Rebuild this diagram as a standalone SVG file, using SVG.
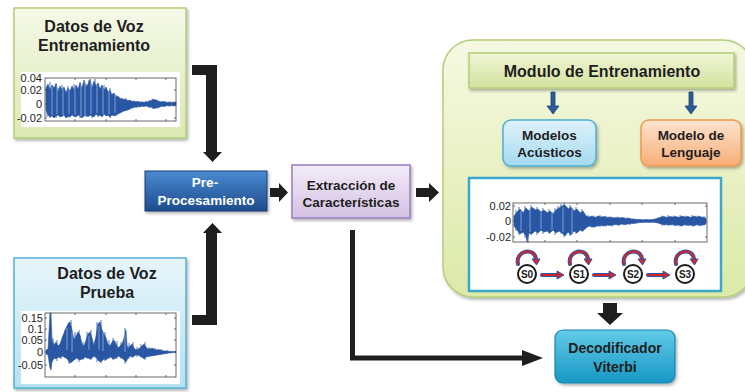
<svg xmlns="http://www.w3.org/2000/svg" width="745" height="392" viewBox="0 0 745 392">
<defs>
<linearGradient id="gGreen" x1="0" y1="0" x2="0" y2="1"><stop offset="0" stop-color="#f5f9e8"/><stop offset="1" stop-color="#dbe8b2"/></linearGradient>
<linearGradient id="gCont" x1="0" y1="0" x2="0" y2="1"><stop offset="0" stop-color="#f6f9e2"/><stop offset="1" stop-color="#dce9a8"/></linearGradient>
<linearGradient id="gMod" x1="0" y1="0" x2="0" y2="1"><stop offset="0" stop-color="#eff5d6"/><stop offset="1" stop-color="#d3e29d"/></linearGradient>
<linearGradient id="gLBlue" x1="0" y1="0" x2="0" y2="1"><stop offset="0" stop-color="#e8f5fb"/><stop offset="1" stop-color="#b6e0f1"/></linearGradient>
<linearGradient id="gAcu" x1="0" y1="0" x2="0" y2="1"><stop offset="0" stop-color="#dff2fb"/><stop offset="1" stop-color="#a4d9ef"/></linearGradient>
<linearGradient id="gOr" x1="0" y1="0" x2="0" y2="1"><stop offset="0" stop-color="#fde4cf"/><stop offset="1" stop-color="#f7ae77"/></linearGradient>
<linearGradient id="gDBlue" x1="0" y1="0" x2="0" y2="1"><stop offset="0" stop-color="#4a8ad2"/><stop offset="1" stop-color="#1d4c8c"/></linearGradient>
<linearGradient id="gPurp" x1="0" y1="0" x2="0" y2="1"><stop offset="0" stop-color="#f3ecf8"/><stop offset="1" stop-color="#d3c1e2"/></linearGradient>
<linearGradient id="gTeal" x1="0" y1="0" x2="0" y2="1"><stop offset="0" stop-color="#62cbe8"/><stop offset="1" stop-color="#1897c3"/></linearGradient>
<filter id="sh" x="-10%" y="-10%" width="125%" height="130%"><feDropShadow dx="1.5" dy="2" stdDeviation="1.5" flood-color="#000" flood-opacity="0.3"/></filter>
</defs>
<style>
.t{font-family:"Liberation Sans",Arial,sans-serif;font-weight:bold;text-anchor:middle;fill:#1e1e1e}
.tw{font-family:"Liberation Sans",Arial,sans-serif;font-weight:bold;text-anchor:middle;fill:#ffffff}
.ax{font-family:"Liberation Sans",Arial,sans-serif;font-size:11px;text-anchor:end;fill:#222}
.axb{fill:none;stroke:#444;stroke-width:0.8}
.wave{fill:#2a57a3;stroke:#2a57a3;stroke-width:0.6;stroke-linejoin:round}
.spk{stroke:#2a57a3;stroke-width:0.8}
.stri{stroke:#93b3e2;stroke-width:0.8}
.blk{fill:#1e1e1e}
.st{fill:#fff;stroke:#1a1a1a;stroke-width:2}
.stl{font-family:"Liberation Sans",Arial,sans-serif;font-weight:bold;font-size:10px;text-anchor:middle;fill:#1a1a1a}
.lpO{fill:none;stroke:#2a57a3;stroke-width:4;stroke-linecap:round}
.lpI{fill:none;stroke:#d8232a;stroke-width:2;stroke-linecap:round}
.ah{fill:#d8232a;stroke:#2a57a3;stroke-width:1}
</style>
<rect width="745" height="392" fill="#ffffff"/>

<g id="datos-entrenamiento">
<rect x="14" y="8" width="172" height="130" fill="url(#gGreen)" stroke="#b3ce7a" stroke-width="1.5" filter="url(#sh)"/>
<text class="t" x="94" y="32" font-size="16">Datos de Voz</text>
<text class="t" x="94" y="51" font-size="16">Entrenamiento</text>
<rect x="21" y="72" width="159" height="55" fill="#fff"/>
<polygon class="wave" points="46,88 48,84 50,90 52,85 54,88 56,84 58,92 60,86 62,90 64,87 66,93 68,88 70,91 72,86 74,90 76,85 78,89 80,83 82,88 84,80 86,87 88,84 90,79 92,88 94,81 96,86 98,83 100,89 102,85 104,90 106,87 108,92 110,90 112,95 114,93 116,97 118,96 120,99 122,98 124,100 126,99 128,101 130,100 132,101.5 134,101 136,102 138,101.5 140,102 142,102 144,102.5 146,101.5 148,102 150,101 152,100 154,99.5 156,100 158,101 160,101.5 162,102 164,101.5 166,102 168,102.5 170,102 172,102.5 174,102 176,102.5 176,105.5 174,106 172,105.5 170,106 168,105.5 166,106 164,106.5 162,106 160,107 158,107.5 156,108 154,108.5 152,107.5 150,107 148,106.5 146,106 144,106.5 142,106 140,107 138,106.5 136,107 134,107.5 132,108 130,109 128,110 126,110.5 124,111 122,112 120,113 118,114 116,115 114,116 112,115 110,117 108,115 106,116 104,114 102,117 100,115 98,116 96,114 94,117 92,116 90,115 88,117 86,115 84,116 82,118 80,116 78,115 76,117 74,116 72,115 70,117 68,116 66,118 64,115 62,116 60,117 58,115 56,116 54,118 52,116 50,117 48,115 46,110"/>
<path class="spk" d="M47 86V117M50 82V118M53 87V116M56 83V118M59 88V115M62 85V117M65 90V116M68 86V118M71 89V115M74 84V117M77 88V116M80 82V118M83 86V115M86 84V117M89 80V116M92 86V118M95 79V115M98 84V117M101 88V116M104 85V114M107 90V116M110 88V118M113 93V115M116 95V116M119 97V113M122 99V111M125 98V111M128 100V110M131 101V108M137 101V108M143 101.5V107M149 100V108M153 98.5V109M157 99.5V108.5M163 101V107M169 101.5V106.5M175 101.5V106"/>
<path class="stri" d="M52 87V115M57 86V114M63 89V115M69 89V114M75 87V115M81 85V116M85 83V115M91 81V114M97 85V113M103 87V114M109 91V114M115 95V113"/>
<rect class="axb" x="45" y="78" width="131" height="43"/>
<path class="axb" d="M75 78v2M106 78v2M136 78v2M166 78v2M75 121v-2M106 121v-2M136 121v-2M166 121v-2M45 90h2M45 104h2M45 118h2M176 90h-2M176 104h-2M176 118h-2"/>
<text class="ax" x="42" y="82">0.04</text>
<text class="ax" x="42" y="94">0.02</text>
<text class="ax" x="42" y="108">0</text>
<text class="ax" x="42" y="122">-0.02</text>
</g>

<g id="datos-prueba">
<rect x="14" y="258" width="172" height="130" fill="url(#gLBlue)" stroke="#4fb2d5" stroke-width="1.5" filter="url(#sh)"/>
<text class="t" x="107" y="279" font-size="16">Datos de Voz</text>
<text class="t" x="107" y="298" font-size="16">Prueba</text>
<rect x="21" y="311" width="159" height="73" fill="#fff"/>
<polygon class="wave" points="46,350 48,349 50,313 51,313 52,340 54,345 56,342 58,346 60,344 62,338 64,333 66,328 68,324 70,322 72,330 74,340 76,336 78,332 80,335 82,344 84,346 86,340 88,334 90,332 92,338 94,346 96,336 98,324 100,322 102,330 104,334 106,338 108,344 110,346 112,342 114,340 116,344 118,348 120,346 122,344 124,338 126,330 127,345 128,348 130,346 132,344 134,348 136,350 138,349 140,348 142,346 144,344 146,347 148,349 150,349 152,348 154,349 156,350 158,349.5 160,350 162,350.5 164,351 166,351 168,351.2 170,351.3 172,351.5 174,351.5 176,351.5 176,352.5 174,352.5 172,352.7 170,353 168,353 166,353.5 164,354 162,354 160,354.5 158,355 156,355 154,355.5 152,356 150,356 148,356.5 146,357 144,359 142,357 140,356 138,355 136,355 134,356 132,357 130,356 128,358 126,362 124,360 122,358 120,357 118,356 116,358 114,359 112,358 110,357 108,358 106,360 104,359 102,361 100,362 98,360 96,357 94,356 92,358 90,359 88,358 86,357 84,358 82,359 80,360 78,359 76,358 74,360 72,362 70,363 68,360 66,358 64,357 62,356 60,358 58,357 56,359 54,358 52,362 51,370 50,368 48,355 46,354"/>
<path class="spk" d="M53 338V360M57 340V361M61 342V359M65 330V358M69 322V364M71 320V362M75 332V360M79 330V362M83 342V360M87 332V359M91 330V360M95 340V358M97 322V362M101 320V363M105 332V361M109 340V359M113 338V360M117 341V359M121 342V359M125 328V364M129 343V359M133 342V358M137 347V357M141 344V358M145 342V360M149 347V357M155 348V356M161 349V355M167 350V354"/>
<path class="stri" d="M67 328V350M72 332V352M89 336V350M99 326V350M103 332V351M125 334V352"/>
<rect class="axb" x="45" y="313" width="131" height="64"/>
<path class="axb" d="M75 313v2M106 313v2M136 313v2M166 313v2M75 377v-2M106 377v-2M136 377v-2M166 377v-2M45 318h2M45 329h2M45 340h2M45 352h2M45 365h2M176 318h-2M176 329h-2M176 340h-2M176 352h-2M176 365h-2"/>
<text class="ax" x="43" y="322">0.15</text>
<text class="ax" x="43" y="333">0.1</text>
<text class="ax" x="43" y="344">0.05</text>
<text class="ax" x="43" y="356">0</text>
<text class="ax" x="43" y="369">-0.05</text>
</g>

<g id="preprocesamiento">
<rect x="145" y="171" width="122" height="40" fill="url(#gDBlue)" stroke="#173f70" stroke-width="1" filter="url(#sh)"/>
<text class="tw" x="205" y="187" font-size="13.5">Pre-</text>
<text class="tw" x="206" y="205" font-size="13.5">Procesamiento</text>
</g>

<g id="extraccion">
<rect x="292" y="165" width="118" height="53" fill="url(#gPurp)" stroke="#9b7cbf" stroke-width="1.5" filter="url(#sh)"/>
<text class="t" x="351" y="190" font-size="13.5">Extracción de</text>
<text class="t" x="351" y="207" font-size="13.5">Características</text>
</g>

<g id="modulo-contenedor">
<rect x="443" y="40" width="310" height="257" rx="30" fill="url(#gCont)" stroke="#b3ce7a" stroke-width="1.5" filter="url(#sh)"/>
</g>

<g id="modulo-entrenamiento">
<rect x="469" y="53" width="265" height="35" fill="url(#gMod)" stroke="#b3ce7a" stroke-width="1.5" filter="url(#sh)"/>
<text class="t" x="602" y="77" font-size="16">Modulo de Entrenamiento</text>
</g>

<g id="modelos-acusticos">
<rect x="503" y="120" width="93" height="46" rx="8" fill="url(#gAcu)" stroke="#4bb0d6" stroke-width="1.5" filter="url(#sh)"/>
<text class="t" x="549.5" y="140" font-size="13.5">Modelos</text>
<text class="t" x="549.5" y="157" font-size="13.5">Acústicos</text>
</g>

<g id="modelo-lenguaje">
<rect x="641" y="120" width="100" height="46" rx="8" fill="url(#gOr)" stroke="#f0984f" stroke-width="1.5" filter="url(#sh)"/>
<text class="t" x="691" y="140" font-size="13.5">Modelo de</text>
<text class="t" x="691" y="157" font-size="13.5">Lenguaje</text>
</g>

<g id="panel-hmm">
<rect x="469" y="178" width="252" height="113" fill="#ffffff" stroke="#3aa8c8" stroke-width="2.5"/>
<polygon class="wave" points="514,216 517,212 520,209 523,213 526,208 529,211 532,207 535,210 538,209 541,212 544,210 547,213 550,211 553,214 556,210 559,208 562,206 565,205 568,209 571,207 574,211 577,209 580,213 583,211 586,216 589,217 592,216 595,217.5 598,216 601,217 604,216.5 607,217.5 610,217 613,218 616,217.5 619,218 622,217.5 625,218.5 628,218 631,219 634,219 637,219.5 640,219.5 643,219.8 646,219.5 649,219.7 652,219.5 655,219 658,218 661,217 664,216.5 667,217.5 670,216.5 673,217 676,216.5 679,217.5 682,216 685,217 688,216.5 691,217.5 694,216 697,217 700,216.5 703,217.5 706,218 706,224 703,225 700,225.5 697,224.5 694,226 691,225 688,225.5 685,224.5 682,226 679,225 676,225.5 673,224.5 670,225 667,224.5 664,225 661,224 658,223 655,222.5 652,222.3 649,222.5 646,222.2 643,222.5 640,222.5 637,223 634,223.5 631,223.5 628,224 625,224.5 622,224 619,225 616,224.5 613,225 610,225.5 607,225 604,226 601,225.5 598,226 595,226.5 592,227 589,226 586,228 583,231 580,230 577,233 574,231 571,235 568,232 565,236 562,233 559,231 556,233 553,230 550,233 547,231 544,232 541,230 538,233 535,231 532,234 529,233 527,242 526,236 523,232 520,234 517,230 514,226"/>
<path class="spk" d="M516 210V231M519 207V235M522 211V233M525 206V238M528 210V243M531 205V235M534 208V232M537 207V235M540 211V231M543 208V234M546 211V232M549 209V234M552 212V231M555 208V235M558 206V232M561 204V234M564 203V237M567 207V233M570 205V236M573 209V232M576 207V234M579 211V231M582 209V232M585 214V229M588 215V227M594 215.5V228M600 215V227M606 216V226.5M612 216.5V226.5M618 216.5V226M624 217V225.5M630 218V225M662 215.5V225.5M668 215V226M674 215.5V226M680 215V226.5M686 215.5V226M692 215V226.5M698 215.5V226M704 216V225.5"/>
<path class="stri" d="M521 211V231M530 209V232M541 212V229M552 213V230M563 207V232M572 209V233"/>
<rect class="axb" x="513" y="203" width="194" height="39"/>
<path class="axb" d="M545 203v2M577 203v2M610 203v2M642 203v2M675 203v2M545 242v-2M577 242v-2M610 242v-2M642 242v-2M675 242v-2M513 206h2M513 221h2M513 237h2M707 206h-2M707 221h-2M707 237h-2"/>
<text class="ax" x="511" y="210">0.02</text>
<text class="ax" x="511" y="225">0</text>
<text class="ax" x="511" y="241">-0.02</text>
</g>

<g id="estado-s0">
<path class="lpO" d="M518 264C515 250 535 247 536 259"/><path class="lpI" d="M518 264C515 250 535 247 536 259"/>
<polygon class="ah" points="532,259 540,259 536.5,265"/>
<circle class="st" cx="527" cy="274" r="9"/><text class="stl" x="527" y="277.5">S0</text>
</g>
<g id="estado-s1">
<path class="lpO" d="M570 264C567 250 587 247 588 259"/><path class="lpI" d="M570 264C567 250 587 247 588 259"/>
<polygon class="ah" points="584,259 592,259 588.5,265"/>
<circle class="st" cx="579" cy="274" r="9"/><text class="stl" x="579" y="277.5">S1</text>
</g>
<g id="estado-s2">
<path class="lpO" d="M624 264C621 250 641 247 642 259"/><path class="lpI" d="M624 264C621 250 641 247 642 259"/>
<polygon class="ah" points="638,259 646,259 642.5,265"/>
<circle class="st" cx="633" cy="274" r="9"/><text class="stl" x="633" y="277.5">S2</text>
</g>
<g id="estado-s3">
<path class="lpO" d="M676 264C673 250 693 247 694 259"/><path class="lpI" d="M676 264C673 250 693 247 694 259"/>
<polygon class="ah" points="690,259 698,259 694.5,265"/>
<circle class="st" cx="685" cy="274" r="9"/><text class="stl" x="685" y="277.5">S3</text>
</g>

<g id="decodificador">
<rect x="555" y="330" width="120" height="53" rx="8" fill="url(#gTeal)" stroke="#1a86ae" stroke-width="1.2" filter="url(#sh)"/>
<text class="t" x="615" y="353" font-size="14">Decodificador</text>
<text class="t" x="615" y="372" font-size="14">Viterbi</text>
</g>

<g id="connectors">
<polygon class="blk" points="192,65 217,65 217,152 222,152 212.5,162 203,152 206,152 206,75 192,75"/>
<polygon class="blk" points="192,325 217,325 217,233 222,233 212.5,223 203,233 206,233 206,315 192,315"/>
<polygon class="blk" points="270,188 279,188 279,183 288,192.5 279,202 279,197 270,197"/>
<polygon class="blk" points="416,188 429,188 429,183 439,192.5 429,202 429,197 416,197"/>
<path d="M352.5 230V358H524" fill="none" stroke="#1e1e1e" stroke-width="5"/>
<polygon class="blk" points="522,350 543,358 522,366"/>
<polygon class="blk" points="603,303 617,303 617,313 623,313 610,325 597,313 603,313"/>
<polygon fill="#2a5b9a" stroke="#1d4274" stroke-width="0.8" points="551,92 555,92 555,106 559,106 553,114 547,106 551,106"/>
<polygon fill="#2a5b9a" stroke="#1d4274" stroke-width="0.8" points="689,92 693,92 693,106 697,106 691,114 685,106 689,106"/>
<path class="lpO" d="M542 275H558"/><path class="lpI" d="M542 275H558"/><polygon class="ah" points="557,271 564,275 557,279"/>
<path class="lpO" d="M594 275H610"/><path class="lpI" d="M594 275H610"/><polygon class="ah" points="609,271 616,275 609,279"/>
<path class="lpO" d="M648 275H664"/><path class="lpI" d="M648 275H664"/><polygon class="ah" points="663,271 670,275 663,279"/>
</g>
</svg>
